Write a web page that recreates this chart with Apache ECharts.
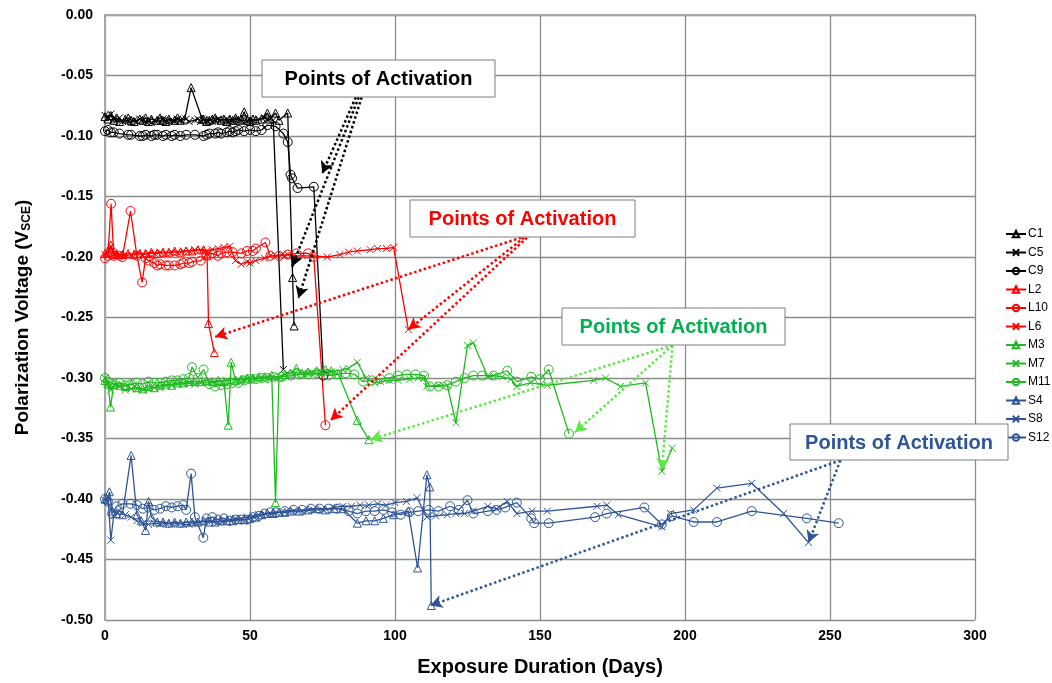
<!DOCTYPE html>
<html><head><meta charset="utf-8">
<script src="https://cdn.jsdelivr.net/npm/echarts@6/dist/echarts.min.js"></script>
<style>html,body{margin:0;padding:0;background:#fff}#c{width:1052px;height:683px}</style>
</head><body><div id="c"></div>
<script>
// ---- data: [exposure day, polarization voltage V_SCE] ----
const C1 = [[0,-0.084],[1,-0.086],[2,-0.083],[3,-0.087],[4,-0.085],[5,-0.088],[7,-0.086],[8,-0.085],[9,-0.087],[10,-0.088],[12,-0.086],[13,-0.087],[14,-0.085],[15,-0.088],[16,-0.086],[18,-0.087],[19,-0.085],[20,-0.087],[21,-0.088],[22,-0.086],[24,-0.087],[25,-0.085],[26,-0.087],[27.5,-0.086],[29.7,-0.060],[33.5,-0.086],[34,-0.086],[35,-0.088],[36,-0.087],[37,-0.086],[38,-0.085],[40,-0.087],[41,-0.086],[42,-0.088],[43,-0.086],[44,-0.087],[45,-0.085],[46,-0.087],[47,-0.086],[48,-0.080],[49,-0.087],[50,-0.088],[51,-0.086],[52,-0.087],[54,-0.086],[56,-0.081],[57,-0.086],[58.8,-0.081],[60,-0.087],[63,-0.081],[64.7,-0.217],[65.2,-0.257]];
const C5 = [[0,-0.083],[1,-0.085],[2,-0.082],[3,-0.086],[4,-0.087],[5,-0.085],[6,-0.088],[8,-0.087],[9,-0.089],[10,-0.087],[11,-0.088],[12,-0.086],[14,-0.088],[15,-0.087],[16,-0.089],[17,-0.087],[19,-0.088],[20,-0.086],[21,-0.088],[23,-0.087],[24,-0.088],[25,-0.086],[26,-0.087],[28,-0.086],[29,-0.088],[31,-0.087],[32,-0.086],[33,-0.088],[34,-0.087],[36,-0.086],[37,-0.088],[38,-0.087],[39,-0.086],[40,-0.087],[42,-0.086],[43,-0.088],[44,-0.087],[46,-0.086],[47,-0.087],[49,-0.088],[50,-0.086],[51,-0.087],[53,-0.086],[55,-0.085],[56,-0.086],[58,-0.087],[61.5,-0.293]];
const C9 = [[0,-0.096],[1,-0.095],[2,-0.097],[3,-0.097],[5,-0.098],[8,-0.099],[9,-0.099],[12,-0.100],[13,-0.100],[14,-0.099],[16,-0.100],[17,-0.099],[18,-0.099],[20,-0.100],[21,-0.099],[23,-0.100],[24,-0.099],[26,-0.100],[28,-0.099],[31,-0.099],[34,-0.100],[35,-0.099],[36,-0.098],[38,-0.098],[39,-0.097],[40,-0.098],[42,-0.097],[43,-0.096],[44,-0.097],[45,-0.096],[46,-0.095],[48,-0.096],[50,-0.095],[52,-0.096],[54,-0.095],[56,-0.091],[58.8,-0.092],[61.5,-0.098],[63,-0.105],[64,-0.132],[64.5,-0.135],[66.4,-0.143],[72,-0.142],[75.3,-0.298]];
const L2 = [[0,-0.197],[1,-0.196],[2,-0.190],[3,-0.198],[4,-0.197],[6,-0.198],[8,-0.197],[10,-0.198],[12,-0.197],[14,-0.197],[16,-0.196],[18,-0.197],[20,-0.196],[22,-0.196],[24,-0.195],[26,-0.196],[28,-0.195],[30,-0.195],[32,-0.194],[34,-0.194],[35.2,-0.199],[35.7,-0.255],[37.7,-0.279]];
const L10 = [[0,-0.201],[1,-0.199],[2.1,-0.156],[3,-0.199],[5,-0.199],[6,-0.200],[8.8,-0.162],[11,-0.199],[12.8,-0.221],[14,-0.201],[15,-0.203],[17,-0.205],[18,-0.207],[19,-0.206],[21,-0.207],[22,-0.207],[24,-0.207],[26,-0.206],[27,-0.205],[29,-0.205],[30,-0.204],[33,-0.203],[35,-0.198],[37,-0.197],[39,-0.199],[40,-0.197],[42,-0.196],[44,-0.196],[47,-0.197],[49,-0.195],[51,-0.195],[52,-0.193],[55.3,-0.188],[57,-0.199],[60,-0.199],[63,-0.198],[66,-0.197],[70,-0.197],[72,-0.200],[76,-0.339]];
const L6 = [[0,-0.198],[1,-0.197],[2,-0.192],[3,-0.198],[5,-0.198],[7,-0.199],[9,-0.198],[11,-0.197],[13,-0.198],[15,-0.197],[17,-0.197],[19,-0.196],[21,-0.197],[23,-0.196],[25,-0.196],[27,-0.195],[29,-0.195],[31,-0.194],[33,-0.194],[35,-0.195],[37,-0.194],[39,-0.193],[41,-0.192],[43,-0.191],[45,-0.203],[47,-0.206],[49,-0.204],[50,-0.205],[52,-0.203],[55,-0.201],[57,-0.199],[59,-0.199],[61,-0.198],[62,-0.199],[63,-0.198],[65,-0.199],[68,-0.199],[72,-0.199],[76.6,-0.200],[81,-0.198],[84,-0.196],[87,-0.195],[91.5,-0.194],[94,-0.193],[97,-0.193],[99.5,-0.192],[104.6,-0.260]];
const M3 = [[0,-0.302],[1,-0.305],[1.9,-0.324],[3,-0.305],[5,-0.306],[7,-0.307],[9,-0.305],[11,-0.308],[13,-0.309],[15,-0.307],[17,-0.308],[19,-0.306],[21,-0.305],[23,-0.306],[25,-0.304],[27,-0.304],[29,-0.303],[31,-0.303],[33,-0.303],[35,-0.302],[37,-0.303],[39,-0.302],[41,-0.303],[42.5,-0.339],[43.5,-0.287],[45,-0.302],[47,-0.301],[49,-0.300],[51,-0.300],[53,-0.299],[55,-0.299],[57.5,-0.298],[58.8,-0.403],[60,-0.299],[62,-0.297],[64,-0.296],[66,-0.292],[68,-0.296],[70,-0.295],[73,-0.294],[76,-0.293],[78,-0.294],[80.5,-0.297],[87,-0.335],[91,-0.351]];
const M7 = [[0,-0.300],[1,-0.305],[2,-0.310],[3,-0.306],[5,-0.307],[7,-0.310],[9,-0.309],[11,-0.309],[13,-0.310],[15,-0.309],[17,-0.308],[19,-0.308],[21,-0.306],[23,-0.306],[25,-0.305],[27,-0.305],[29,-0.304],[31,-0.305],[33,-0.304],[36,-0.304],[39,-0.303],[42,-0.302],[46,-0.301],[49,-0.301],[52,-0.300],[55,-0.300],[58,-0.299],[60.5,-0.299],[63,-0.296],[66,-0.297],[70,-0.296],[74,-0.296],[78,-0.295],[82,-0.293],[84,-0.292],[87,-0.287],[90,-0.300],[93,-0.304],[95,-0.303],[98,-0.302],[101,-0.302],[105,-0.301],[108,-0.300],[110,-0.300],[111,-0.307],[115,-0.306],[118,-0.306],[121,-0.337],[125,-0.273],[127,-0.271],[132,-0.299],[134,-0.298],[137,-0.299],[140,-0.301],[142,-0.307],[146.7,-0.304],[152.5,-0.306],[168.5,-0.302],[172.6,-0.300],[177.8,-0.307],[186.4,-0.304],[192,-0.377],[195.6,-0.358]];
const M11 = [[0,-0.300],[1,-0.303],[3,-0.305],[5,-0.304],[7,-0.306],[9,-0.305],[11,-0.304],[13,-0.305],[15,-0.303],[17,-0.304],[19,-0.304],[21,-0.303],[23,-0.302],[25,-0.302],[27,-0.301],[29,-0.300],[30,-0.291],[32,-0.300],[34,-0.293],[36,-0.305],[38,-0.307],[40,-0.306],[42,-0.305],[44,-0.304],[46,-0.304],[48,-0.302],[50,-0.301],[52,-0.301],[54,-0.300],[56,-0.300],[58,-0.299],[61,-0.299],[64,-0.298],[67,-0.297],[70,-0.297],[73,-0.296],[77,-0.298],[80,-0.297],[83,-0.296],[86,-0.297],[89,-0.303],[92,-0.302],[95,-0.301],[98,-0.300],[101,-0.298],[104,-0.297],[107,-0.297],[110,-0.298],[112,-0.307],[115,-0.307],[118,-0.306],[121,-0.303],[124,-0.300],[127,-0.298],[130,-0.298],[134,-0.298],[138.7,-0.294],[142,-0.303],[147,-0.299],[150,-0.301],[153,-0.293],[160,-0.346]];
const S4 = [[0,-0.400],[1,-0.401],[1.5,-0.394],[2.5,-0.410],[4,-0.412],[6,-0.413],[9,-0.364],[11,-0.413],[12.5,-0.418],[14,-0.426],[15,-0.402],[16,-0.415],[18,-0.419],[20,-0.419],[22,-0.420],[24,-0.419],[26,-0.420],[28,-0.419],[30,-0.419],[32,-0.419],[34,-0.418],[36,-0.419],[38,-0.419],[40,-0.418],[42,-0.418],[44,-0.418],[46,-0.417],[48,-0.417],[50,-0.416],[52,-0.415],[54,-0.413],[56,-0.412],[58,-0.412],[60,-0.411],[62,-0.411],[64,-0.410],[67,-0.410],[70,-0.409],[73,-0.408],[76,-0.409],[79,-0.408],[82,-0.408],[87,-0.420],[90,-0.418],[93,-0.418],[96,-0.416],[99.5,-0.413],[104.6,-0.410],[107.8,-0.457],[111,-0.380],[112,-0.390],[112.5,-0.488]];
const S8 = [[0,-0.401],[1,-0.398],[2,-0.434],[3,-0.414],[5,-0.410],[7,-0.413],[9,-0.415],[11,-0.418],[13,-0.420],[15,-0.421],[17,-0.420],[19,-0.421],[21,-0.420],[23,-0.421],[25,-0.420],[27,-0.421],[29,-0.421],[31,-0.420],[33,-0.419],[35,-0.418],[37,-0.418],[39,-0.419],[41,-0.418],[43,-0.417],[45,-0.416],[47,-0.416],[49,-0.415],[51,-0.414],[53,-0.413],[55,-0.412],[57,-0.412],[59,-0.411],[62,-0.411],[65,-0.410],[68,-0.410],[72,-0.409],[75,-0.409],[79,-0.407],[82,-0.406],[85,-0.406],[88,-0.405],[91,-0.405],[94,-0.404],[97,-0.405],[100,-0.403],[104,-0.402],[107.6,-0.399],[111,-0.415],[114,-0.414],[118,-0.413],[121,-0.412],[124,-0.412],[127,-0.410],[132,-0.406],[135,-0.408],[138.7,-0.402],[142,-0.412],[147.3,-0.410],[152.5,-0.410],[169.7,-0.406],[173,-0.405],[177,-0.413],[192,-0.423],[195,-0.412],[203,-0.409],[211,-0.391],[223,-0.387],[234,-0.412],[242.6,-0.436]];
const S12 = [[0,-0.400],[1,-0.402],[2.5,-0.412],[4,-0.406],[6,-0.404],[8.8,-0.404],[11,-0.405],[13,-0.408],[15,-0.407],[17,-0.409],[19,-0.408],[21,-0.406],[23,-0.407],[25,-0.406],[27,-0.405],[28,-0.409],[29.7,-0.379],[31,-0.415],[33.9,-0.432],[35,-0.416],[37,-0.415],[39,-0.417],[41,-0.416],[43,-0.418],[45,-0.417],[47,-0.417],[49,-0.417],[51,-0.415],[53,-0.414],[55,-0.412],[57,-0.411],[59,-0.411],[62,-0.410],[65,-0.409],[68,-0.409],[71,-0.408],[74,-0.408],[77,-0.408],[80,-0.408],[84,-0.410],[87,-0.412],[90,-0.410],[93,-0.410],[96,-0.409],[99,-0.411],[102,-0.413],[105,-0.411],[108,-0.410],[111.6,-0.409],[115,-0.410],[119,-0.406],[122,-0.409],[125,-0.401],[127,-0.412],[132,-0.410],[135,-0.409],[138,-0.407],[142,-0.403],[147,-0.416],[148,-0.420],[153,-0.420],[169,-0.415],[173,-0.412],[186,-0.407],[192,-0.421],[195.5,-0.414],[203,-0.419],[211,-0.419],[223,-0.410],[242,-0.416],[253,-0.420]];

// annotation arrows: [startDay, startV, endDay, endV]
const arrowsBlack = [[86.5,-0.068,74.9,-0.131],[87.5,-0.068,64.5,-0.208],[88.5,-0.068,66.7,-0.234]];
const arrowsRed = [[143.5,-0.184,38.0,-0.266],[144.5,-0.184,104.6,-0.260],[145.5,-0.184,77.8,-0.335]];
const arrowsGreen = [[195.7,-0.273,91.5,-0.351],[195.7,-0.273,162.0,-0.345],[195.7,-0.273,192.0,-0.376]];
const arrowsBlue = [[253.6,-0.368,112.2,-0.488],[253.6,-0.368,242.6,-0.436]];
const annotationText = 'Points of Activation';

const seriesNames = ['C1','C5','C9','L2','L10','L6','M3','M7','M11','S4','S8','S12'];
const seriesData = [C1,C5,C9,L2,L10,L6,M3,M7,M11,S4,S8,S12];

const BLACK='#000000', RED='#ff0000', GREEN='#1fba1f', BLUE='#2f5597';
const colors = [BLACK,BLACK,BLACK,RED,RED,RED,GREEN,GREEN,GREEN,BLUE,BLUE,BLUE];
const XPATH = 'path://M0,0L10,10M10,0L0,10';
const symbols = ['triangle',XPATH,'circle','triangle','circle',XPATH,'triangle',XPATH,'circle','triangle',XPATH,'circle'];
const sizes = [8,7,9,8,9,7,8,7,9,8,7,9];

function ml(arr, color){
  return {silent:true, animation:false, symbol:['none','arrow'], symbolSize:[10,12], label:{show:false},
    lineStyle:{type:[2.5,2.5], width:2.5, color:color, opacity:1}, emphasis:{disabled:true},
    data: arr.map(a=>[{coord:[a[0],a[1]]},{coord:[a[2],a[3]]}])};
}
const marks = {C1: ml(arrowsBlack,'#000'), L2: ml(arrowsRed,'#ff0000'), M3: ml(arrowsGreen,'#5ee845'), S4: ml(arrowsBlue,'#2f5597')};

const series = seriesNames.map((n,i)=>{
  const s = {name:n, type:'line', data:seriesData[i], symbol:symbols[i], symbolSize:sizes[i], showAllSymbol:true,
    lineStyle:{color:colors[i], width:1.3}, itemStyle:{color:'rgba(255,255,255,0)', borderColor:colors[i], borderWidth:1},
    emphasis:{disabled:true}, animation:false};
  if (marks[n]) s.markLine = marks[n];
  return s;
});

function box(x,y,w,h,color){
  return {type:'group', z:100, children:[
    {type:'rect', shape:{x:x,y:y,width:w,height:h}, style:{fill:'#fff', stroke:'#7f7f7f', lineWidth:1}, z:100},
    {type:'text', x:x+w/2, y:y+h/2+1, z:101, style:{text:annotationText, font:'bold 20px "Liberation Sans", Arial, sans-serif', fill:color, align:'center', verticalAlign:'middle'}}
  ]};
}

const chart = echarts.init(document.getElementById('c'), null, {renderer:'canvas'});
chart.setOption({
  animation:false,
  color: colors,
  textStyle:{fontFamily:'"Liberation Sans", Arial, sans-serif'},
  grid:{left:105, right:77, top:15, bottom:63, containLabel:false},
  legend:{orient:'vertical', left:1000, top:223, itemGap:6.5, itemWidth:20, itemHeight:8,
    textStyle:{fontSize:12, color:'#000', padding:[0,0,0,-3]}, data:seriesNames, selectedMode:false},
  xAxis:{type:'value', min:0, max:300, interval:50,
    name:'Exposure Duration (Days)', nameLocation:'middle', nameGap:37,
    nameTextStyle:{fontSize:20, fontWeight:'bold', color:'#000'},
    axisLine:{show:true, lineStyle:{color:'#a6a6a6', width:2}}, axisTick:{show:false},
    axisLabel:{fontSize:14, fontWeight:'bold', color:'#000', margin:9},
    splitLine:{show:true, lineStyle:{color:'#8c8c8c', width:1.3}}},
  yAxis:{type:'value', min:-0.5, max:0, interval:0.05,
    name:'Polarization Voltage (V{s|SCE})', nameLocation:'middle', nameGap:72, nameRotate:90,
    nameTextStyle:{fontSize:19, fontWeight:'bold', color:'#000',
      rich:{s:{fontSize:12, fontWeight:'bold', color:'#000', padding:[9,0,0,0]}}},
    axisLine:{show:true, lineStyle:{color:'#a6a6a6', width:2}}, axisTick:{show:false},
    axisLabel:{fontSize:14, fontWeight:'bold', color:'#000', margin:12, formatter:v=>v.toFixed(2)},
    splitLine:{show:true, lineStyle:{color:'#8c8c8c', width:1.3}}},
  graphic:[box(262,60,233,37,'#000000'), box(410,200,225,37,'#ff0000'), box(562,308,223,37,'#00b050'), box(790,424,218,36,'#2f5597')],
  series: series
});
</script></body></html>
